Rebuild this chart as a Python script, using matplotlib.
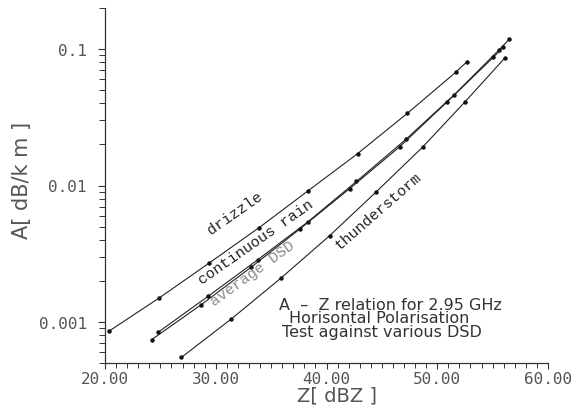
import matplotlib
matplotlib.use('Agg')
import matplotlib.pyplot as plt
from matplotlib.ticker import FixedLocator, MultipleLocator, LogLocator, NullFormatter, FixedFormatter

# ---- data ----
drizzle_z = [20.4, 24.9, 29.4, 33.9, 38.3, 42.8, 47.3, 51.7, 52.7]
drizzle_a = [0.00086, 0.0015, 0.0027, 0.0049, 0.0091, 0.0171, 0.0338, 0.068, 0.081]
rain_z = [24.8, 29.3, 33.8, 38.3, 42.7, 47.2, 51.5, 55.6, 56.5]
rain_a = [0.00084, 0.00154, 0.00286, 0.0054, 0.0107, 0.0219, 0.046, 0.099, 0.118]
avg_z = [24.2, 28.7, 33.2, 37.6, 42.1, 46.6, 50.85, 55.06, 55.97]
avg_a = [0.00074, 0.00134, 0.00252, 0.0048, 0.0095, 0.0192, 0.0407, 0.087, 0.103]
thunder_z = [26.9, 31.4, 35.9, 40.3, 44.5, 48.7, 52.5, 56.1]
thunder_a = [0.00055, 0.00105, 0.0021, 0.0043, 0.009, 0.0192, 0.041, 0.086]

x_ticks = [20, 30, 40, 50, 60]
x_ticklabels = ["20.00", "30.00", "40.00", "50.00", "60.00"]
y_ticks = [0.001, 0.01, 0.1]
y_ticklabels = ["0.001", "0.01", "0.1"]

W, H = 577, 406
fig = plt.figure(figsize=(W / 100, H / 100), dpi=100)
fig.patch.set_facecolor('white')
ax = fig.add_axes([105 / W, 1 - 364 / H, (548 - 105) / W, (364 - 9) / H])

line_kw = dict(color='#222222', lw=0.8, marker='o', ms=2.2, mfc='#111111', mec='#111111')
ax.plot(drizzle_z, drizzle_a, **line_kw)
ax.plot(rain_z, rain_a, **line_kw)
ax.plot(avg_z, avg_a, **line_kw)
ax.plot(thunder_z, thunder_a, **line_kw)

ax.set_yscale('log')
ax.set_xlim(20, 60)
ax.set_ylim(0.0005, 0.2)

for s in ['top', 'right']:
    ax.spines[s].set_visible(False)
for s in ['left', 'bottom']:
    ax.spines[s].set_linewidth(0.9)
    ax.spines[s].set_color('#333333')

ax.xaxis.set_major_locator(FixedLocator(x_ticks))
ax.xaxis.set_major_formatter(FixedFormatter(x_ticklabels))
ax.xaxis.set_minor_locator(MultipleLocator(1))
ax.yaxis.set_major_locator(FixedLocator(y_ticks))
ax.yaxis.set_major_formatter(FixedFormatter(y_ticklabels))
ax.yaxis.set_minor_locator(LogLocator(base=10, subs=[2, 3, 4, 5, 6, 7, 8, 9]))
ax.yaxis.set_minor_formatter(NullFormatter())

ax.tick_params(axis='x', which='major', direction='out', length=4.5, width=0.8, color='#333333',
               pad=1.5, labelcolor='#555555')
ax.tick_params(axis='x', which='minor', direction='out', length=3.5, width=0.7, color='#333333')
ax.tick_params(axis='y', which='major', direction='out', length=5, width=0.8, color='#333333',
               pad=8, labelcolor='#555555')
ax.tick_params(axis='y', which='minor', direction='out', length=4, width=0.7, color='#333333')
for lab in ax.get_xticklabels() + ax.get_yticklabels():
    lab.set_fontfamily('DejaVu Sans Mono')
    lab.set_fontsize(11.5)

def fx(x):
    return x / W

def fy(y):
    return 1 - y / H

# axis labels
fig.text(fx(22), fy(180), "A[ dB/k m ]", rotation=90, ha='center', va='center',
         fontsize=15, color='#555555', family='DejaVu Sans')
fig.text(fx(337), fy(396), "Z[ dBZ ]", ha='center', va='center',
         fontsize=14, color='#555555', family='DejaVu Sans')

# curve labels
lab_kw = dict(ha='center', va='center', family='Liberation Mono', fontsize=11)
fig.text(fx(235), fy(213), "drizzle", rotation=35, color='#222222', **lab_kw)
fig.text(fx(256), fy(242), "continuous rain", rotation=35, color='#222222', **lab_kw)
fig.text(fx(252), fy(274), "average DSD", rotation=36, color='#8a8a8a', **lab_kw)
fig.text(fx(378), fy(211), "thunderstorm", rotation=41, color='#222222', **lab_kw)

# annotation block
ann_kw = dict(ha='center', va='center', family='DejaVu Sans', fontsize=11.5, color='#333333')
fig.text(fx(390), fy(305), "A  \u2013  Z relation for 2.95 GHz", **ann_kw)
fig.text(fx(379), fy(319), "Horisontal Polarisation", **ann_kw)
fig.text(fx(382), fy(333), "Test against various DSD", **ann_kw)

fig.savefig('out.png', dpi=100, facecolor='white')
